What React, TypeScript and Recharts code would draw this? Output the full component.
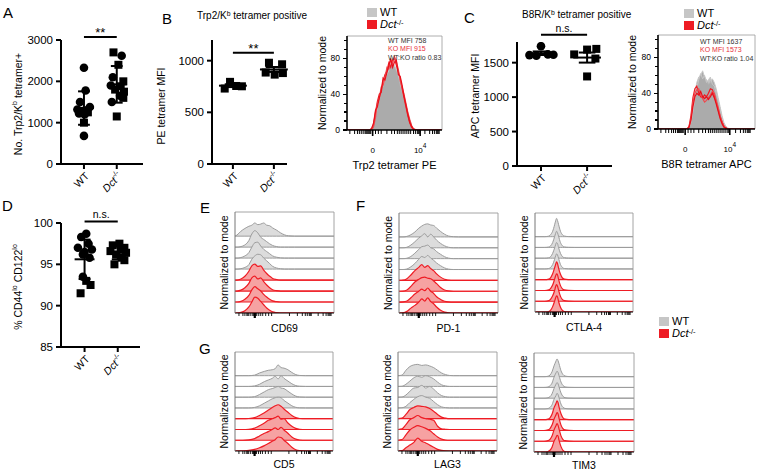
import React from 'react';
import { ComposedChart, Scatter, Area, XAxis, YAxis, ReferenceLine, Label } from 'recharts';

const FONT = '"Liberation Sans", Arial, Helvetica, sans-serif';
const RED = '#ee1c24';
const PINK = '#f6a2a2';
const RIDGE_GRAY_FILL = '#dcdcdc';
const RIDGE_GRAY_LINE = '#9c9c9c';
const HIST_GRAY_FILL = '#ababab';
const HIST_GRAY_LINE = '#c8c8c8';
const LEGEND_GRAY = '#c6c6c6';

const categories = ['WT', 'Dct'];

const aWT = [2330, 1780, 1500, 1380, 1320, 1300, 1280, 1250, 1220, 1200, 1000, 680];
const aWTShape = ['c', 'c', 'c', 'c', 'c', 'c', 'c', 's', 'c', 'c', 's', 'c'];
const aWTJitter = [0, 0.05, -0.12, 0.18, -0.2, 0.08, -0.05, 0.12, -0.15, 0.02, 0, 0];
const aKO = [2700, 2620, 2400, 2100, 2000, 1900, 1880, 1800, 1750, 1650, 1600, 1500, 1150];
const aKOShape = ['s', 'c', 's', 'c', 's', 'c', 's', 's', 's', 'c', 's', 'c', 's'];
const aKOJitter = [-0.1, 0.15, 0.05, -0.12, 0.2, -0.18, 0.12, -0.05, 0.22, 0.1, 0.2, -0.15, 0];
const aTicks = [0, 1000, 2000, 3000];

const bWT = [730, 795, 755, 752];
const bWTJitter = [-0.2, -0.07, 0.08, 0.22];
const bKO = [885, 980, 965, 880, 865];
const bKOJitter = [-0.2, -0.12, 0.2, 0.22, 0.02];
const bTicks = [0, 500, 1000];

const cWT = [1740, 1610, 1600, 1620, 1615];
const cWTJitter = [0, -0.25, -0.1, 0.15, 0.27];
const cKO = [1620, 1690, 1700, 1560, 1300];
const cKOJitter = [-0.28, 0, 0.2, 0.18, 0];
const cTicks = [0, 500, 1000, 1500];

const dWT = [98.7, 98.3, 97.5, 97.0, 96.8, 96.5, 96.2, 95.8, 93.5, 93.0, 92.5, 91.5];
const dWTShape = ['c', 'c', 'c', 'c', 'c', 'c', 'c', 'c', 'c', 's', 's', 's'];
const dWTJitter = [0.05, -0.1, 0.12, -0.2, 0.22, 0, -0.05, 0.15, -0.05, 0.05, 0.18, -0.12];
const dKO = [97.5, 97.3, 97.0, 96.8, 96.6, 96.4, 96.2, 95.8, 95.5, 95.0];
const dKOJitter = [0.05, -0.15, 0.2, 0.1, -0.22, 0.25, -0.05, 0.12, 0.2, -0.1];
const dTicks = [85, 90, 95, 100];

const histBGrid = [0, 20, 24, 26, 28, 30, 32, 34, 36, 38, 40, 42, 44, 46, 48, 50, 52, 54, 56, 58, 60, 62, 64, 66, 68, 70, 74, 80, 100];
const histBWT1 = [0, 0, 0, 2, 8, 18, 28, 38, 45, 52, 60, 65, 70, 74, 72, 70, 66, 60, 50, 42, 34, 26, 18, 10, 4, 1, 0, 0, 0];
const histBWT2 = [0, 0, 0, 1, 6, 15, 25, 35, 44, 50, 56, 62, 66, 70, 75, 72, 68, 62, 54, 45, 36, 28, 19, 11, 5, 1, 0, 0, 0];
const histBKO1 = [0, 0, 0, 1, 6, 20, 32, 40, 42, 55, 62, 66, 75, 70, 78, 80, 72, 65, 58, 46, 36, 26, 16, 8, 3, 1, 0, 0, 0];
const histBKO2 = [0, 0, 0, 0, 4, 14, 30, 35, 48, 50, 58, 70, 68, 78, 74, 82, 76, 68, 55, 48, 40, 30, 20, 12, 5, 1, 0, 0, 0];
const histBKO3 = [0, 0, 0, 2, 8, 22, 26, 36, 44, 58, 56, 64, 72, 80, 70, 76, 78, 62, 60, 50, 38, 28, 18, 9, 4, 1, 0, 0, 0];
const histBXTicks = [3, 8, 11, 13, 15, 17, 19, 20, 21, 22, 23, 24, 25, 27, 30, 33, 36, 42, 47, 50, 53, 55, 57, 59, 61, 63, 65, 67, 70, 72, 74, 75, 76, 77, 82, 87, 90, 92, 94, 95, 96, 97];
const histBXLabels = [{ v: 27, base: '0', exp: '' }, { v: 77, base: '10', exp: '4' }];
const histBStats = ['WT MFI 758', 'KO MFI 915', 'WT:KO ratio 0.83'];

const histCGrid = [0, 25, 30, 32, 34, 36, 38, 40, 42, 44, 46, 48, 50, 52, 54, 56, 58, 60, 62, 64, 66, 68, 70, 72, 76, 100];
const histCWT1 = [0, 0, 0, 2, 10, 25, 40, 52, 58, 60, 65, 58, 55, 50, 52, 56, 52, 45, 35, 25, 15, 7, 3, 1, 0, 0];
const histCWT2 = [0, 0, 0, 1, 8, 20, 35, 45, 55, 62, 56, 60, 52, 55, 58, 50, 48, 40, 32, 22, 12, 6, 2, 0, 0, 0];
const histCKO1 = [0, 0, 0, 3, 15, 35, 45, 48, 40, 36, 35, 38, 36, 40, 45, 44, 38, 30, 22, 14, 8, 3, 1, 0, 0, 0];
const histCKO2 = [0, 0, 0, 2, 12, 30, 40, 44, 45, 38, 34, 30, 32, 35, 38, 42, 40, 32, 24, 15, 8, 3, 1, 0, 0, 0];
const histCKO3 = [0, 0, 0, 2, 10, 25, 36, 40, 38, 42, 36, 34, 36, 33, 36, 40, 35, 28, 20, 12, 6, 2, 1, 0, 0, 0];
const histCXTicks = [3, 8, 11, 14, 16, 18, 20, 21, 22, 23, 24, 25, 26, 28, 31, 34, 37, 42, 46, 49, 52, 54, 56, 58, 60, 62, 64, 66, 68, 70, 72, 73, 74, 80, 85, 88, 90, 92, 93, 94, 95];
const histCXLabels = [{ v: 28, base: '0', exp: '' }, { v: 74, base: '10', exp: '4' }];
const histCStats = ['WT MFI 1637', 'KO MFI 1573', 'WT:KO ratio 1.04'];

const histYMax = 105;
const histYTicks = [0, 10, 20, 30, 40, 50, 60, 70, 80, 90, 100];
const histYLabels = [0, 40, 80];

const ridgeXTicks = [4, 8, 10, 12, 13, 14, 16, 18, 19, 20, 21, 22, 24, 26, 28, 31, 34, 37, 55, 63, 68, 71, 73, 75, 76, 77, 84, 89, 92, 94, 95, 96, 97];

const cd69Grid = [0, 2, 6, 10, 14, 17, 20, 23, 26, 29, 32, 35, 38, 42, 46, 50, 54, 60, 100];
const cd69Rows = [
  [0, 0.1, 0.45, 0.7, 0.9, 1.0, 1.2, 1.05, 1.1, 1.2, 1.0, 0.95, 0.75, 0.55, 0.3, 0.12, 0.03, 0, 0],
  [0, 0, 0.05, 0.2, 0.6, 1.2, 1.5, 1.3, 0.9, 0.7, 0.5, 0.3, 0.15, 0.05, 0, 0, 0, 0, 0],
  [0, 0, 0.05, 0.2, 0.5, 1.0, 1.4, 1.45, 1.1, 0.8, 0.6, 0.4, 0.2, 0.08, 0.02, 0, 0, 0, 0],
  [0, 0, 0.04, 0.15, 0.4, 0.9, 1.2, 1.35, 1.3, 1.0, 0.75, 0.5, 0.25, 0.1, 0.03, 0, 0, 0, 0],
  [0, 0, 0.1, 0.35, 0.8, 1.3, 1.45, 1.25, 1.3, 0.9, 0.6, 0.35, 0.15, 0.05, 0, 0, 0, 0, 0],
  [0, 0, 0.08, 0.3, 0.7, 1.2, 1.35, 1.1, 1.2, 0.85, 0.55, 0.3, 0.12, 0.04, 0, 0, 0, 0, 0],
  [0, 0, 0.06, 0.25, 0.6, 1.1, 1.4, 1.2, 1.0, 0.7, 0.45, 0.25, 0.1, 0.03, 0, 0, 0, 0, 0],
  [0, 0, 0.05, 0.2, 0.55, 1.0, 1.45, 1.35, 1.05, 0.75, 0.45, 0.25, 0.1, 0.03, 0, 0, 0, 0, 0],
];

const pd1Grid = [0, 4, 8, 12, 16, 20, 23, 26, 29, 32, 35, 38, 42, 46, 50, 55, 60, 100];
const pd1Rows = [
  [0, 0, 0.05, 0.2, 0.45, 0.8, 1.0, 1.15, 1.2, 1.1, 1.05, 0.8, 0.5, 0.25, 0.08, 0.02, 0, 0],
  [0, 0, 0.05, 0.25, 0.55, 0.9, 1.1, 1.3, 1.0, 1.25, 1.0, 0.7, 0.4, 0.18, 0.05, 0, 0, 0],
  [0, 0, 0.04, 0.2, 0.5, 0.85, 1.1, 1.15, 1.25, 1.0, 0.9, 0.65, 0.4, 0.18, 0.05, 0, 0, 0],
  [0, 0, 0.05, 0.25, 0.55, 0.95, 1.2, 1.1, 1.3, 1.05, 0.85, 0.6, 0.35, 0.15, 0.04, 0, 0, 0],
  [0, 0.02, 0.15, 0.5, 0.9, 1.2, 1.45, 1.2, 1.35, 1.1, 0.9, 0.6, 0.3, 0.1, 0.03, 0, 0, 0],
  [0, 0.02, 0.12, 0.45, 0.85, 1.1, 1.25, 1.3, 1.2, 1.15, 0.95, 0.7, 0.35, 0.12, 0.03, 0, 0, 0],
  [0, 0.02, 0.1, 0.4, 0.75, 1.0, 1.2, 1.05, 1.3, 1.0, 0.8, 0.5, 0.25, 0.08, 0.02, 0, 0, 0],
  [0, 0.02, 0.15, 0.45, 0.7, 1.0, 1.3, 1.1, 1.4, 1.05, 0.85, 0.55, 0.25, 0.08, 0.02, 0, 0, 0],
];

const ctla4Grid = [0, 10, 14, 16, 18, 20, 21, 22, 23, 24, 26, 28, 30, 34, 40, 100];
const ctla4Rows = [
  [0, 0, 0.05, 0.2, 0.5, 1.1, 1.45, 1.7, 1.5, 1.15, 0.5, 0.18, 0.06, 0.01, 0, 0],
  [0, 0, 0.04, 0.15, 0.45, 1.0, 1.3, 1.5, 1.35, 1.05, 0.45, 0.15, 0.05, 0.01, 0, 0],
  [0, 0, 0.04, 0.15, 0.45, 0.95, 1.25, 1.45, 1.35, 1.0, 0.45, 0.15, 0.05, 0.01, 0, 0],
  [0, 0, 0.04, 0.15, 0.4, 0.9, 1.2, 1.4, 1.3, 1.0, 0.42, 0.14, 0.04, 0.01, 0, 0],
  [0, 0, 0.05, 0.2, 0.55, 1.1, 1.4, 1.65, 1.5, 1.1, 0.5, 0.16, 0.05, 0.01, 0, 0],
  [0, 0, 0.05, 0.2, 0.5, 1.05, 1.35, 1.55, 1.45, 1.05, 0.45, 0.15, 0.05, 0.01, 0, 0],
  [0, 0, 0.05, 0.2, 0.5, 1.0, 1.35, 1.55, 1.4, 1.05, 0.45, 0.15, 0.05, 0.01, 0, 0],
  [0, 0, 0.05, 0.18, 0.5, 1.0, 1.3, 1.5, 1.4, 1.0, 0.45, 0.15, 0.05, 0.01, 0, 0],
];

const cd5Grid = [0, 8, 14, 20, 25, 30, 34, 38, 41, 44, 47, 50, 54, 58, 62, 66, 72, 100];
const cd5Rows = [
  [0, 0, 0, 0.05, 0.25, 0.4, 0.5, 0.55, 0.65, 1.0, 0.75, 0.7, 0.55, 0.3, 0.1, 0.02, 0, 0],
  [0, 0, 0, 0.05, 0.2, 0.45, 0.6, 0.75, 0.95, 0.7, 1.0, 0.75, 0.5, 0.25, 0.08, 0.02, 0, 0],
  [0, 0, 0, 0.05, 0.25, 0.5, 0.7, 0.8, 0.9, 1.0, 0.85, 0.8, 0.55, 0.3, 0.1, 0.02, 0, 0],
  [0, 0, 0, 0.05, 0.2, 0.45, 0.65, 0.85, 0.95, 1.0, 0.95, 0.7, 0.45, 0.2, 0.06, 0.01, 0, 0],
  [0, 0, 0.02, 0.1, 0.3, 0.55, 0.8, 1.05, 1.2, 1.3, 1.15, 0.9, 0.6, 0.3, 0.1, 0.02, 0, 0],
  [0, 0, 0.02, 0.12, 0.35, 0.6, 0.85, 1.0, 1.1, 1.25, 0.95, 1.0, 0.6, 0.3, 0.1, 0.02, 0, 0],
  [0, 0, 0.03, 0.15, 0.4, 0.65, 0.8, 1.0, 1.15, 1.0, 1.2, 0.95, 0.65, 0.3, 0.1, 0.02, 0, 0],
  [0, 0, 0.05, 0.15, 0.3, 0.5, 0.7, 0.9, 1.05, 1.3, 1.25, 1.0, 0.7, 0.35, 0.12, 0.03, 0, 0],
];

const lag3Grid = [0, 4, 8, 12, 16, 20, 24, 28, 32, 36, 40, 44, 48, 52, 56, 62, 100];
const lag3Rows = [
  [0, 0.05, 0.5, 0.85, 1.0, 1.05, 0.95, 1.0, 0.9, 0.75, 0.5, 0.25, 0.1, 0.02, 0, 0, 0],
  [0, 0.02, 0.2, 0.5, 0.8, 0.95, 0.85, 1.0, 0.9, 0.7, 0.4, 0.15, 0.05, 0, 0, 0, 0],
  [0, 0.02, 0.2, 0.55, 0.85, 0.9, 1.1, 0.85, 1.0, 0.75, 0.4, 0.15, 0.05, 0, 0, 0, 0],
  [0, 0.02, 0.15, 0.5, 0.8, 1.05, 1.15, 1.0, 0.9, 0.6, 0.3, 0.1, 0.03, 0, 0, 0, 0],
  [0, 0.05, 0.4, 0.85, 1.05, 1.2, 1.15, 1.1, 0.95, 0.7, 0.4, 0.15, 0.05, 0, 0, 0, 0],
  [0, 0.05, 0.45, 0.9, 1.1, 1.3, 1.1, 1.0, 0.95, 0.85, 0.3, 0.05, 0.02, 0, 0, 0, 0],
  [0, 0.05, 0.5, 0.95, 1.2, 1.35, 1.25, 1.1, 0.9, 0.6, 0.3, 0.1, 0.02, 0, 0, 0, 0],
  [0, 0.03, 0.3, 0.55, 0.8, 1.2, 0.9, 0.75, 0.55, 0.35, 0.15, 0.05, 0.01, 0, 0, 0, 0],
];

const tim3Grid = [0, 10, 14, 16, 18, 20, 22, 23, 24, 25, 27, 29, 31, 35, 40, 100];
const tim3Rows = [
  [0, 0, 0.04, 0.15, 0.45, 1.0, 1.45, 1.65, 1.5, 1.2, 0.55, 0.2, 0.06, 0.01, 0, 0],
  [0, 0, 0.04, 0.15, 0.4, 0.95, 1.35, 1.5, 1.4, 1.1, 0.5, 0.18, 0.05, 0.01, 0, 0],
  [0, 0, 0.04, 0.14, 0.4, 0.9, 1.3, 1.45, 1.35, 1.05, 0.48, 0.16, 0.05, 0.01, 0, 0],
  [0, 0, 0.04, 0.14, 0.38, 0.9, 1.25, 1.45, 1.35, 1.05, 0.45, 0.15, 0.05, 0.01, 0, 0],
  [0, 0, 0.05, 0.18, 0.5, 1.1, 1.5, 1.75, 1.6, 1.2, 0.55, 0.18, 0.05, 0.01, 0, 0],
  [0, 0, 0.05, 0.18, 0.5, 1.05, 1.45, 1.65, 1.55, 1.15, 0.5, 0.16, 0.05, 0.01, 0, 0],
  [0, 0, 0.05, 0.18, 0.48, 1.05, 1.45, 1.65, 1.5, 1.15, 0.5, 0.16, 0.05, 0.01, 0, 0],
  [0, 0, 0.05, 0.16, 0.45, 1.0, 1.35, 1.55, 1.5, 1.1, 0.5, 0.16, 0.05, 0.01, 0, 0],
];

const meanOf = (a: number[]) => a.reduce((s, v) => s + v, 0) / a.length;
const sdOf = (a: number[]) => {
  const m = meanOf(a);
  return Math.sqrt(a.reduce((s, v) => s + (v - m) * (v - m), 0) / (a.length - 1));
};

const Marker = (p: any) => {
  const { cx, cy, payload } = p;
  if (cx == null || cy == null) return <g />;
  if (payload.shape === 's') return <rect x={cx - 4} y={cy - 4} width={8} height={8} fill="#000" />;
  return <circle cx={cx} cy={cy} r={4.3} fill="#000" />;
};

const CatTick = (p: any) => {
  const { x, y, payload } = p;
  const name = categories[Math.round(payload.value) - 1];
  return (
    <g>
      <line x1={x} y1={y} x2={x} y2={y + 5} stroke="#000" strokeWidth={2} />
      <g transform={`translate(${x + 3},${y + 10}) rotate(-45)`}>
        <text x={0} y={0} textAnchor="end" dominantBaseline="central" fontSize={10.5} fontFamily={FONT} fill="#000">
          {name === 'WT' ? 'WT' : (
            <>
              <tspan fontStyle="italic">{name}</tspan>
              <tspan fontSize={7} dy={-4}>-/-</tspan>
            </>
          )}
        </text>
      </g>
    </g>
  );
};

const NumTick = (p: any) => {
  const { x, y, payload } = p;
  return (
    <g>
      <line x1={x} y1={y} x2={x - 5} y2={y} stroke="#000" strokeWidth={2} />
      <text x={x - 8} y={y} textAnchor="end" dominantBaseline="central" fontSize={11.5} fontFamily={FONT} fill="#000">
        {payload.value}
      </text>
    </g>
  );
};

const rotLabel = (absX: number, chartLeft: number, content: React.ReactNode, size: number, dy = 0) => (
  <Label
    content={(lp: any) => {
      const vb = lp.viewBox || { x: 0, y: 0, width: 0, height: 0 };
      const cx = absX - chartLeft;
      const cy = vb.y + vb.height / 2 + dy;
      return (
        <text x={cx} y={cy} transform={`rotate(-90, ${cx}, ${cy})`} textAnchor="middle" dominantBaseline="central" fontSize={size} fontFamily={FONT} fill="#000">
          {content}
        </text>
      );
    }}
  />
);

type DotSet = { pos: number; values: number[]; jitter: number[]; shapes: string[] };

function DotPlot(props: any) {
  const { box, yDomain, yTicks, xDomain, sets, errKind, sig, yLabel, yLabelX, yLabelDy, meanHalf, capHalf } = props;
  const [x0, y0, x1, y1] = box;
  const YW = 58, MT = 30, MR = 6, XH = 36;
  const width = x1 - x0 + YW + MR;
  const height = y1 - y0 + MT + XH;
  const left = x0 - YW;
  const top = y0 - MT;
  const points = (sets as DotSet[]).flatMap((s) => s.values.map((v, i) => ({ x: s.pos + s.jitter[i], y: v, shape: s.shapes[i] })));
  const lines: React.ReactNode[] = [];
  (sets as DotSet[]).forEach((s, gi) => {
    const m = meanOf(s.values);
    const sd = sdOf(s.values);
    const e = errKind === 'sem' ? sd / Math.sqrt(s.values.length) : sd;
    const p = s.pos;
    const st = { stroke: '#000', strokeWidth: 2, ifOverflow: 'visible' as const };
    lines.push(<ReferenceLine key={`m${gi}`} segment={[{ x: p - meanHalf, y: m }, { x: p + meanHalf, y: m }]} {...st} />);
    lines.push(<ReferenceLine key={`v${gi}`} segment={[{ x: p, y: m - e }, { x: p, y: m + e }]} {...st} />);
    lines.push(<ReferenceLine key={`t${gi}`} segment={[{ x: p - capHalf, y: m + e }, { x: p + capHalf, y: m + e }]} {...st} />);
    lines.push(<ReferenceLine key={`b${gi}`} segment={[{ x: p - capHalf, y: m - e }, { x: p + capHalf, y: m - e }]} {...st} />);
  });
  return (
    <div style={{ position: 'absolute', left, top }}>
      <ComposedChart width={width} height={height} margin={{ top: MT, right: MR, bottom: 0, left: 0 }}>
        <XAxis type="number" dataKey="x" domain={xDomain} ticks={[1, 2]} interval={0} allowDataOverflow height={XH}
          axisLine={{ stroke: '#000', strokeWidth: 2 }} tickLine={false} tickSize={0} tickMargin={0} tick={<CatTick />} />
        <YAxis type="number" dataKey="y" domain={yDomain} ticks={yTicks} interval={0} allowDataOverflow width={YW}
          axisLine={{ stroke: '#000', strokeWidth: 2 }} tickLine={false} tickSize={0} tickMargin={0} tick={<NumTick />}
          label={rotLabel(yLabelX, left, yLabel, 10.5, yLabelDy || 0)} />
        <Scatter data={points} shape={Marker} isAnimationActive={false} />
        {lines}
        <ReferenceLine segment={[{ x: 1, y: sig.y }, { x: 2, y: sig.y }]} stroke="#000" strokeWidth={2} ifOverflow="visible"
          label={{ value: sig.text, position: 'top', offset: sig.offset, fontSize: sig.size, fill: '#000', fontFamily: FONT }} />
      </ComposedChart>
    </div>
  );
}

const HistXTick = (p: any) => {
  const { x, y, payload, majors } = p;
  const maj = (majors || []).find((m: any) => m.v === payload.value);
  return (
    <g>
      <line x1={x} x2={x} y1={y} y2={y + (maj ? 6 : 4)} stroke="#000" strokeWidth={maj ? 1.6 : 1} />
      {maj && (
        <text x={x} y={y + 20} textAnchor="middle" dominantBaseline="central" fontSize={8} fontFamily={FONT} fill="#000">
          {maj.base}
          {maj.exp ? <tspan fontSize={6.5} dy={-5}>{maj.exp}</tspan> : null}
        </text>
      )}
    </g>
  );
};

// y-axis tick marks and labels of the histogram panels, placed along the axis of the same box
const HistYScale = ({ box }: any) => {
  const [x0, y0, , y1] = box;
  const toY = (v: number) => y1 - (v / histYMax) * (y1 - y0);
  return (
    <>
      {histYTicks.map((v) => {
        const major = histYLabels.indexOf(v) >= 0;
        const len = major ? 4.5 : 3;
        const y = toY(v);
        return (
          <React.Fragment key={v}>
            <div style={{ position: 'absolute', left: x0 - len, top: y - 0.6, width: len, height: 1.2, background: '#000' }} />
            {major ? (
              <div style={{ position: 'absolute', left: x0 - 28, top: y - 4.5, width: 21, height: 9, lineHeight: '9px',
                textAlign: 'right', fontSize: 8.5, fontFamily: FONT, color: '#000' }}>{v}</div>
            ) : null}
          </React.Fragment>
        );
      })}
    </>
  );
};

function Hist(props: any) {
  const { box, grid, wt, ko, xTicks, xMajors, xLabel, yLabelX } = props;
  const [x0, y0, x1, y1] = box;
  const YW = 40, XH = 46, MT = 2, MR = 3;
  const left = x0 - YW;
  const top = y0 - MT;
  const width = x1 - x0 + YW + MR;
  const height = y1 - y0 + MT + XH;
  const data = grid.map((x: number, i: number) => {
    const r: any = { x };
    wt.forEach((s: number[], k: number) => (r['w' + k] = s[i]));
    ko.forEach((s: number[], k: number) => (r['k' + k] = s[i]));
    return r;
  });
  const koColors = [RED, '#f0474d', '#e8101a'];
  return (
    <>
      <div style={{ position: 'absolute', left, top }}>
        <ComposedChart width={width} height={height} data={data} margin={{ top: MT, right: MR, bottom: 0, left: 0 }}>
          <XAxis type="number" dataKey="x" domain={[0, 100]} ticks={xTicks} interval={0} allowDataOverflow height={XH}
            axisLine={{ stroke: '#000', strokeWidth: 1.6 }} tickLine={false} tickSize={0} tickMargin={0}
            tick={<HistXTick majors={xMajors} />}
            label={<Label content={(lp: any) => {
              const vb = lp.viewBox;
              return (
                <text x={vb.x + vb.width / 2} y={vb.y + 35} textAnchor="middle" dominantBaseline="central" fontSize={11} fontFamily={FONT} fill="#000">{xLabel}</text>
              );
            }} />} />
          <YAxis type="number" domain={[0, histYMax]} allowDataOverflow width={YW}
            axisLine={{ stroke: '#000', strokeWidth: 1.6 }} tickLine={false} tick={false}
            label={rotLabel(yLabelX, left, 'Normalized to mode', 10.5)} />
          <ReferenceLine segment={[{ x: 0, y: histYMax }, { x: 100, y: histYMax }]} stroke="#9a9a9a" strokeWidth={0.8} ifOverflow="visible" />
          <ReferenceLine segment={[{ x: 100, y: 0 }, { x: 100, y: histYMax }]} stroke="#9a9a9a" strokeWidth={0.8} ifOverflow="visible" />
          {wt.map((_: any, k: number) => (
            <Area key={'w' + k} dataKey={'w' + k} type="linear" fill={HIST_GRAY_FILL}
              fillOpacity={k === 0 ? 1 : 0.7} stroke={HIST_GRAY_LINE} strokeWidth={1} isAnimationActive={false} dot={false} activeDot={false} />
          ))}
          {ko.map((_: any, k: number) => (
            <Area key={'k' + k} dataKey={'k' + k} type="linear" fill="none"
              stroke={koColors[k % koColors.length]} strokeWidth={1.2} isAnimationActive={false} dot={false} activeDot={false} />
          ))}
        </ComposedChart>
      </div>
      <HistYScale box={box} />
    </>
  );
}

const RidgeXTick = (p: any) => {
  const { x, y, payload } = p;
  const major = payload.value === 20;
  return <line x1={x} x2={x} y1={y} y2={y + (major ? 5 : 3)} stroke="#000" strokeWidth={major ? 2.2 : 0.9} />;
};

function Ridge(props: any) {
  const { box, grid, rows, xLabel, labelDy } = props;
  const [x0, y0, x1, y1] = box;
  const YW = 22, XH = 30, MT = 1, MR = 2;
  const left = x0 - YW;
  const top = y0 - MT;
  const width = x1 - x0 + YW + MR;
  const height = y1 - y0 + MT + XH;
  const nRows = rows.length;
  const yTop = 9.2;
  const data = grid.map((x: number, i: number) => {
    const r: any = { x };
    rows.forEach((row: number[], k: number) => {
      const base = nRows - 1 - k;
      r['r' + k] = [base, base + row[i]];
    });
    return r;
  });
  return (
    <div style={{ position: 'absolute', left, top }}>
      <ComposedChart width={width} height={height} data={data} margin={{ top: MT, right: MR, bottom: 0, left: 0 }}>
        <XAxis type="number" dataKey="x" domain={[0, 100]} ticks={ridgeXTicks} interval={0} allowDataOverflow height={XH}
          axisLine={{ stroke: '#000', strokeWidth: 1 }} tickLine={false} tickSize={0} tickMargin={0} tick={<RidgeXTick />}
          label={<Label content={(lp: any) => {
            const vb = lp.viewBox;
            return (
              <text x={vb.x + vb.width / 2} y={vb.y + labelDy} textAnchor="middle" dominantBaseline="central" fontSize={10.5} fontFamily={FONT} fill="#000">{xLabel}</text>
            );
          }} />} />
        <YAxis type="number" domain={[0, yTop]} allowDataOverflow width={YW}
          axisLine={{ stroke: '#777', strokeWidth: 1 }} tickLine={false} tick={false}
          label={rotLabel(x0 - 11, left, 'Normalized to mode', 10.5)} />
        <ReferenceLine segment={[{ x: 0, y: yTop }, { x: 100, y: yTop }]} stroke="#9a9a9a" strokeWidth={0.9} ifOverflow="visible" />
        <ReferenceLine segment={[{ x: 100, y: 0 }, { x: 100, y: yTop }]} stroke="#9a9a9a" strokeWidth={0.9} ifOverflow="visible" />
        {rows.map((_: any, k: number) => {
          const isKO = k >= nRows / 2;
          return (
            <Area key={'r' + k} dataKey={'r' + k} type="monotone" fill={isKO ? PINK : RIDGE_GRAY_FILL} fillOpacity={1}
              stroke={isKO ? RED : RIDGE_GRAY_LINE} strokeWidth={isKO ? 1.2 : 1} isAnimationActive={false} dot={false} activeDot={false} />
          );
        })}
      </ComposedChart>
    </div>
  );
}

const T = (p: any) => (
  <div style={{ position: 'absolute', left: p.x, top: p.y - (p.size || 11) / 2, fontSize: p.size || 11, lineHeight: `${p.size || 11}px`,
    color: p.color || '#000', fontFamily: FONT, whiteSpace: 'nowrap' }}>
    {p.children}
  </div>
);

const Sup = ({ children }: any) => <span style={{ fontSize: '0.68em', position: 'relative', top: '-0.45em' }}>{children}</span>;

const KOName = () => (
  <>
    <i>Dct</i>
    <Sup>-/-</Sup>
  </>
);

const LegendBlock = ({ x, y }: any) => (
  <>
    <div style={{ position: 'absolute', left: x, top: y, width: 10, height: 9, background: LEGEND_GRAY }} />
    <T x={x + 13} y={y + 4.5} size={11}>WT</T>
    <div style={{ position: 'absolute', left: x, top: y + 12, width: 10, height: 9, background: RED }} />
    <T x={x + 13} y={y + 16.5} size={11}><KOName /></T>
  </>
);

const Stats = ({ x, y, lines }: any) => (
  <>
    <T x={x} y={y} size={7} color="#333">{lines[0]}</T>
    <T x={x} y={y + 8.5} size={7} color="#e8303a">{lines[1]}</T>
    <T x={x} y={y + 17} size={7} color="#333">{lines[2]}</T>
  </>
);

export default function App() {
  const aSets: DotSet[] = [
    { pos: 1, values: aWT, jitter: aWTJitter, shapes: aWTShape },
    { pos: 2, values: aKO, jitter: aKOJitter, shapes: aKOShape },
  ];
  const bSets: DotSet[] = [
    { pos: 1, values: bWT, jitter: bWTJitter, shapes: bWT.map(() => 's') },
    { pos: 2, values: bKO, jitter: bKOJitter, shapes: bKO.map(() => 's') },
  ];
  const cSets: DotSet[] = [
    { pos: 1, values: cWT, jitter: cWTJitter, shapes: cWT.map(() => 'c') },
    { pos: 2, values: cKO, jitter: cKOJitter, shapes: cKO.map(() => 's') },
  ];
  const dSets: DotSet[] = [
    { pos: 1, values: dWT, jitter: dWTJitter, shapes: dWTShape },
    { pos: 2, values: dKO, jitter: dKOJitter, shapes: dKO.map(() => 's') },
  ];

  return (
    <div style={{ position: 'absolute', left: 0, top: 0, width: 759, height: 475, background: '#fff', overflow: 'hidden', fontFamily: FONT }}>
      <T x={3} y={12} size={15}>A</T>
      <T x={162} y={18} size={15}>B</T>
      <T x={464} y={17} size={15}>C</T>
      <T x={2} y={205} size={15}>D</T>
      <T x={200} y={207} size={15}>E</T>
      <T x={356} y={205} size={15}>F</T>
      <T x={199} y={348} size={15}>G</T>

      <T x={197} y={16} size={10}>Trp2/K<Sup>b</Sup> tetramer positive</T>
      <T x={522} y={15} size={10}>B8R/K<Sup>b</Sup> tetramer positive</T>

      <DotPlot box={[61, 40, 143, 164]} yDomain={[0, 3000]} yTicks={aTicks} xDomain={[0.3, 2.8]} sets={aSets} errKind="sd"
        sig={{ y: 3070, text: '**', offset: 0, size: 13 }}
        yLabel={<>No. Trp2/K<tspan dy={-4} fontSize={7}>b</tspan><tspan dy={4}> tetramer+</tspan></>}
        yLabelX={18} yLabelDy={2} meanHalf={0.3} capHalf={0.18} />

      <DotPlot box={[212, 40, 287, 164]} yDomain={[0, 1200]} yTicks={bTicks} xDomain={[0.49, 2.32]} sets={bSets} errKind="sem"
        sig={{ y: 1077, text: '**', offset: 0, size: 13 }} yLabel="PE tetramer MFI" yLabelX={161} yLabelDy={4} meanHalf={0.34} capHalf={0.2} />

      <DotPlot box={[517, 42, 612, 166]} yDomain={[0, 1800]} yTicks={cTicks} xDomain={[0.48, 2.54]} sets={cSets} errKind="sem"
        sig={{ y: 1905, text: 'n.s.', offset: 3, size: 10.5 }} yLabel="APC tetramer MFI" yLabelX={475} yLabelDy={-8} meanHalf={0.3} capHalf={0.18} />

      <DotPlot box={[61, 223, 140, 347]} yDomain={[85, 100]} yTicks={dTicks} xDomain={[0.29, 2.67]} sets={dSets} errKind="sd"
        sig={{ y: 100.19, text: 'n.s.', offset: 3, size: 10.5 }}
        yLabel={<>% CD44<tspan dy={-4} fontSize={7}>lo</tspan><tspan dy={4}> CD122</tspan><tspan dy={-4} fontSize={7}>lo</tspan></>}
        yLabelX={18} yLabelDy={2} meanHalf={0.3} capHalf={0.18} />

      <Hist box={[347, 36, 442, 130]} grid={histBGrid} wt={[histBWT1, histBWT2]} ko={[histBKO1, histBKO2, histBKO3]}
        xTicks={histBXTicks} xMajors={histBXLabels} xLabel="Trp2 tetramer PE" yLabelX={322} />
      <Hist box={[658, 35, 755, 129]} grid={histCGrid} wt={[histCWT1, histCWT2]} ko={[histCKO1, histCKO2, histCKO3]}
        xTicks={histCXTicks} xMajors={histCXLabels} xLabel="B8R tetramer APC" yLabelX={632} />

      <LegendBlock x={367} y={8} />
      <LegendBlock x={684} y={9} />
      <Stats x={388} y={40} lines={histBStats} />
      <Stats x={700} y={41} lines={histCStats} />

      <Ridge box={[235, 212, 334, 313]} grid={cd69Grid} rows={cd69Rows} xLabel="CD69" labelDy={15} />
      <Ridge box={[399, 213, 498, 313]} grid={pd1Grid} rows={pd1Rows} xLabel="PD-1" labelDy={15} />
      <Ridge box={[535, 213, 633, 312]} grid={ctla4Grid} rows={ctla4Rows} xLabel="CTLA-4" labelDy={15} />
      <Ridge box={[235, 352, 333, 451]} grid={cd5Grid} rows={cd5Rows} xLabel="CD5" labelDy={13} />
      <Ridge box={[398, 352, 497, 451]} grid={lag3Grid} rows={lag3Rows} xLabel="LAG3" labelDy={13} />
      <Ridge box={[534, 353, 634, 452]} grid={tim3Grid} rows={tim3Rows} xLabel="TIM3" labelDy={13} />

      <LegendBlock x={659} y={317} />
    </div>
  );
}
